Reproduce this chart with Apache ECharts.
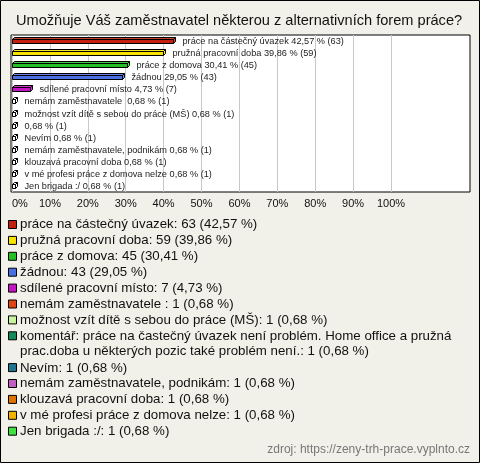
<!DOCTYPE html>
<html><head><meta charset="utf-8">
<style>html,body{margin:0;padding:0;background:#f2f1e9;}#c{width:480px;height:463px;}</style>
<script src="https://cdn.jsdelivr.net/npm/echarts@6/dist/echarts.min.js"></script>
</head><body><div id="c"></div>
<script>
const titleText = "Umožňuje Váš zaměstnavatel některou z alternativních forem práce?";
const sourceText = "zdroj: https://zeny-trh-prace.vyplnto.cz";
const categories = [
  "práce na částečný úvazek",
  "pružná pracovní doba",
  "práce z domova",
  "žádnou",
  "sdílené pracovní místo",
  "nemám zaměstnavatele ",
  "možnost vzít dítě s sebou do práce (MŠ)",
  "komentář: práce na častečný úvazek není problém. Home office a pružná\nprac.doba u některých pozic také problém není.",
  "Nevím",
  "nemám zaměstnavatele, podnikám",
  "klouzavá pracovní doba",
  "v mé profesi práce z domova nelze",
  "Jen brigada :/"
];
const barNames = [
  "práce na částečný úvazek", "pružná pracovní doba", "práce z domova", "žádnou",
  "sdílené pracovní místo", "nemám zaměstnavatele ", "možnost vzít dítě s sebou do práce (MŠ)",
  "", "Nevím", "nemám zaměstnavatele, podnikám", "klouzavá pracovní doba",
  "v mé profesi práce z domova nelze", "Jen brigada :/"
];
const counts = [63, 59, 45, 43, 7, 1, 1, 1, 1, 1, 1, 1, 1];
const percents = [42.57, 39.86, 30.41, 29.05, 4.73, 0.68, 0.68, 0.68, 0.68, 0.68, 0.68, 0.68, 0.68];
const xTicks = [0, 10, 20, 30, 40, 50, 60, 70, 80, 90, 100];
const colors = ["#c4200f", "#f7e200", "#22c022", "#4a6fe0", "#c414c4", "#e04410", "#c8f4a0", "#148a58", "#20748e", "#c060c0", "#e07200", "#f0b400", "#40e040"];

const fmt = v => v.toFixed(2).replace('.', ',');
const FONT = '"Liberation Sans", Arial, sans-serif';

const chart = echarts.init(document.getElementById('c'), null, {renderer: 'canvas'});

const legendEls = [];
let ly = 225;
categories.forEach((name, i) => {
  const lines = name.split('\n').length;
  legendEls.push({type: 'rect', shape: {x: 8.5, y: ly - 4.5, width: 8, height: 8},
    style: {fill: colors[i], stroke: '#000', lineWidth: 1}});
  legendEls.push({type: 'text', x: 20, y: ly - 8,
    style: {text: name + ': ' + counts[i] + ' (' + fmt(percents[i]) + ' %)',
      font: '13.3px ' + FONT, fill: '#111', lineHeight: 15.6, verticalAlign: 'top'}});
  ly += 15.9 * lines;
});

chart.setOption({
  backgroundColor: '#f2f1e9',
  animation: false,
  title: {text: titleText, left: 11, top: 8,
    textStyle: {fontFamily: FONT, fontSize: 14.6, fontWeight: 'normal', color: '#111'}},
  grid: [
    {left: 11, top: 35, width: 459, height: 157, show: true, backgroundColor: '#fff', borderColor: '#000', borderWidth: 1},
    {left: 12, top: 35, width: 379, height: 157, show: false}
  ],
  xAxis: [
    {gridIndex: 0, type: 'value', show: false, min: 0, max: 1},
    {gridIndex: 1, type: 'value', min: xTicks[0], max: xTicks[xTicks.length - 1], interval: xTicks[1] - xTicks[0],
      axisLine: {show: false}, axisTick: {show: false},
      splitLine: {show: true, lineStyle: {color: '#c8c8c8', width: 1}},
      axisLabel: {formatter: v => v + '%', margin: 6, color: '#111', fontSize: 11, alignMinLabel: 'left',
        fontFamily: FONT}}
  ],
  yAxis: [
    {gridIndex: 0, type: 'value', show: false, min: 0, max: 1},
    {gridIndex: 1, type: 'category', data: categories, inverse: true, show: false}
  ],
  graphic: [
    {type: 'rect', shape: {x: 0.5, y: 0.5, width: 479, height: 462}, style: {fill: 'none', stroke: '#000', lineWidth: 1}, z: 100},
    {type: 'text', right: 10, top: 444, style: {text: sourceText, font: '12px ' + FONT, fill: '#777'}},
    {type: 'group', left: 0, top: 0, children: legendEls, bounding: 'raw'}
  ],
  series: [{
    type: 'custom',
    xAxisIndex: 1, yAxisIndex: 1,
    data: percents.map((p, i) => [p, i]),
    encode: {x: 0, y: 1},
    renderItem: function (params, api) {
      const i = api.value(1);
      const v = api.value(0);
      const s = api.coord([0, i]);
      const e = api.coord([v, i]);
      const x0 = Math.round(s[0]) + 0.5, x1 = Math.max(Math.round(e[0]), x0 + 2) + 0.5;
      const cy = Math.round(s[1]) + 0.5;
      const h = 4, d = 2;
      const y0 = cy - 2;
      const fill = v < 1 ? '#fff' : colors[i];
      const dark = v < 1 ? '#fff' : echarts.color.lift(colors[i], -0.35);
      const light = v < 1 ? '#fff' : echarts.color.lift(colors[i], 0.15);
      const st = {stroke: '#000', lineWidth: 1};
      const label = (barNames[i] ? barNames[i] + ' ' : '') + fmt(percents[i]) + ' % (' + counts[i] + ')';
      return {type: 'group', children: [
        {type: 'polygon', shape: {points: [[x0, y0], [x0 + d, y0 - d], [x1 + d, y0 - d], [x1, y0]]}, style: Object.assign({fill: light}, st)},
        {type: 'polygon', shape: {points: [[x1, y0], [x1 + d, y0 - d], [x1 + d, y0 + h - d], [x1, y0 + h]]}, style: Object.assign({fill: dark}, st)},
        {type: 'rect', shape: {x: x0, y: y0, width: x1 - x0, height: h}, style: Object.assign({fill: fill}, st)},
        {type: 'text', x: x1 + d + 7, y: cy, style: {text: label, font: '9.2px ' + FONT, fill: '#222', verticalAlign: 'middle'}}
      ]};
    }
  }]
});
</script></body></html>
